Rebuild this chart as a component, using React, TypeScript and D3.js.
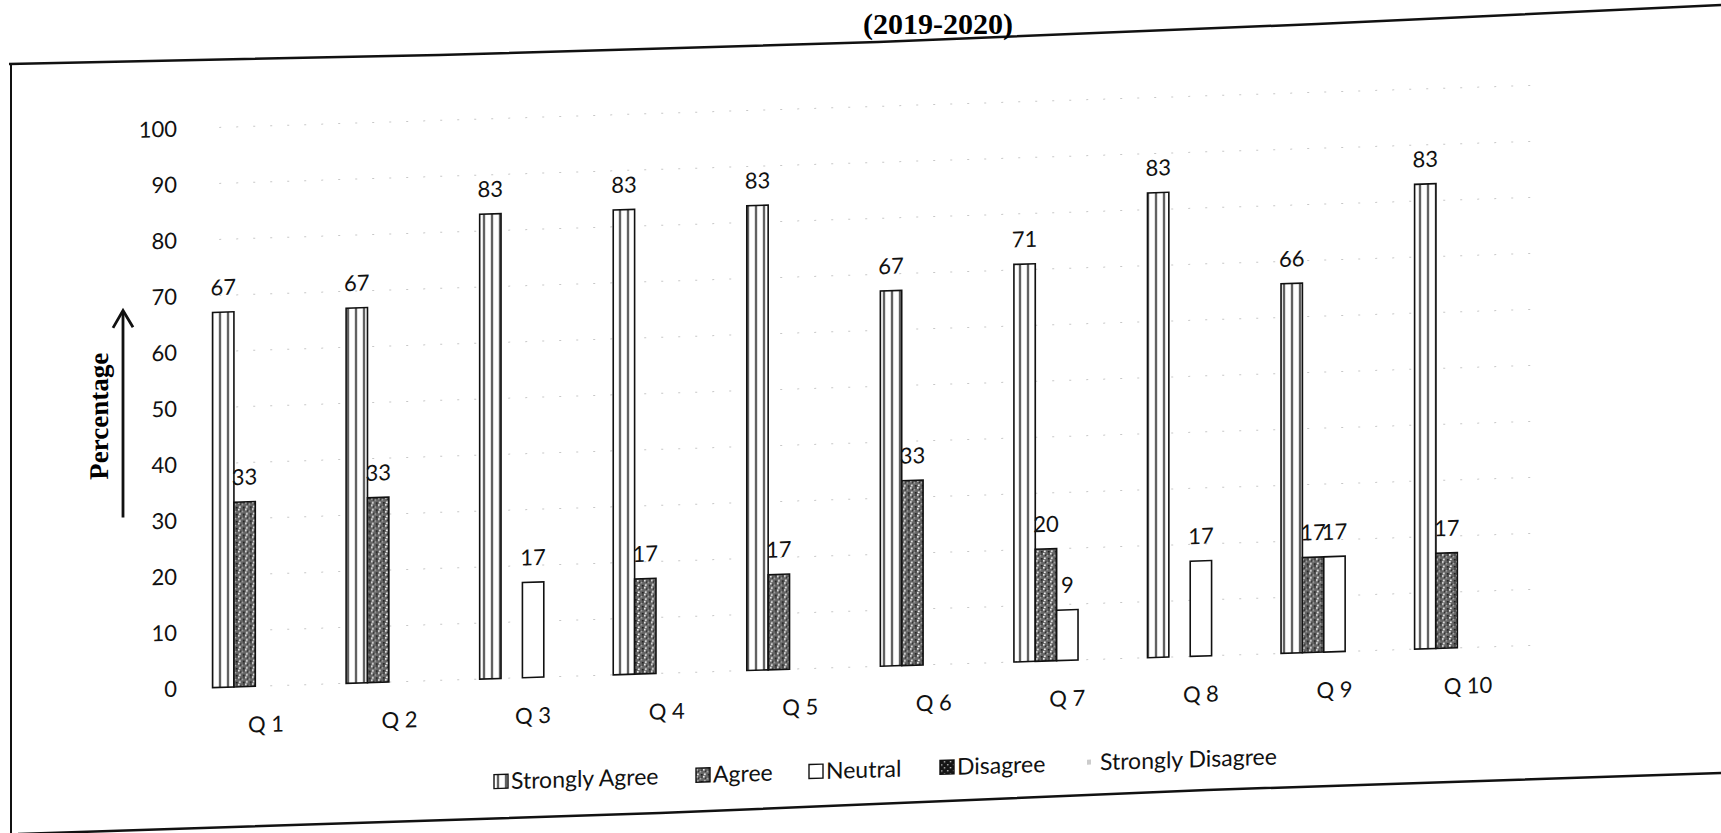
import React from "react";
import * as d3 from "d3";

// survey responses per question, in percent
const questions = ["Q 1", "Q 2", "Q 3", "Q 4", "Q 5", "Q 6", "Q 7", "Q 8", "Q 9", "Q 10"];
const seriesNames = ["Strongly Agree", "Agree", "Neutral", "Disagree", "Strongly Disagree"];
const stronglyAgree = [67, 67, 83, 83, 83, 67, 71, 83, 66, 83];
const agree = [33, 33, 0, 17, 17, 33, 20, 0, 17, 17];
const neutral = [0, 0, 17, 0, 0, 0, 9, 17, 17, 0];
const disagree = [0, 0, 0, 0, 0, 0, 0, 0, 0, 0];
const stronglyDisagree = [0, 0, 0, 0, 0, 0, 0, 0, 0, 0];
const yTicks = [0, 10, 20, 30, 40, 50, 60, 70, 80, 90, 100];

const W = 1721;
const H = 833;
const pivotX = 170;
const base = 689;
const skew = 0.032;
const sansFont = "Lato, 'Open Sans', sans-serif";
const serifFont = "'Liberation Serif', 'DejaVu Serif', serif";

const fills = ["url(#pSA)", "url(#pAgree)", "#fff", "url(#pDis)", "#fff"];

export default function App() {
  const seriesValues = [stronglyAgree, agree, neutral, disagree, stronglyDisagree];

  const x = d3.scaleBand<string>().domain(questions).range([199.2, 1534.8]);
  const xInner = d3
    .scaleBand<string>()
    .domain(seriesNames)
    .range([x.bandwidth() * 0.1, x.bandwidth() * 0.9]);
  const y = d3.scaleLinear().domain([0, 100]).range([base, base - 560]);

  const bars = questions
    .flatMap((q, i) => seriesNames.map((s, j) => ({ q, s, j, v: seriesValues[j][i] })))
    .filter((d) => d.v > 0);

  const skewT = `translate(${pivotX},${base}) matrix(1,${-skew},0,1,0,0) translate(${-pivotX},${-base})`;

  // legend layout
  const legendX = [494, 696, 809, 940, 1083];
  const legendY = 800;

  return (
    <svg
      width={W}
      height={H}
      style={{ position: "absolute", left: 0, top: 0, background: "#fff" }}
    >
      <defs>
        <pattern id="pSA" patternUnits="userSpaceOnUse" width={8} height={8}>
          <rect width={8} height={8} fill="#fff" />
          <line x1={4} y1={0} x2={4} y2={8} stroke="#111" strokeWidth={1.6} />
        </pattern>
        <pattern id="pAgree" patternUnits="userSpaceOnUse" width={7} height={7}>
          <rect width={7} height={7} fill="#666" />
          <rect x={0} y={0} width={1.6} height={1.6} fill="#eee" />
          <rect x={3.5} y={2} width={1.4} height={1.4} fill="#ccc" />
          <rect x={1} y={4.5} width={1.6} height={1.6} fill="#fff" />
          <rect x={5} y={5} width={1.6} height={1.6} fill="#111" />
          <rect x={2} y={1.5} width={1.6} height={1.6} fill="#222" />
          <rect x={5.3} y={0.5} width={1.2} height={1.2} fill="#222" />
        </pattern>
        <pattern id="pDis" patternUnits="userSpaceOnUse" width={6} height={6}>
          <rect width={6} height={6} fill="#151515" />
          <rect x={1} y={1} width={1.3} height={1.3} fill="#ddd" />
          <rect x={4} y={4} width={1.3} height={1.3} fill="#ddd" />
        </pattern>
      </defs>

      {/* photographed page frame */}
      <path
        d="M9,64 L439,55 L878,42 L1317,24 L1721,5"
        fill="none"
        stroke="#111"
        strokeWidth={2.5}
      />
      <path d="M11,64 L11,833" fill="none" stroke="#111" strokeWidth={2} />
      <path
        d="M18,834 L660,813 L1207,790 L1721,773"
        fill="none"
        stroke="#111"
        strokeWidth={2.5}
      />

      <text
        x={938}
        y={34}
        textAnchor="middle"
        fontFamily={serifFont}
        fontWeight="bold"
        fontSize={30}
      >
        (2019-2020)
      </text>

      <g transform={skewT}>
        {/* faint gridlines */}
        {yTicks.map((t) => (
          <line
            key={`g${t}`}
            x1={x(questions[0])! + 20}
            x2={x(questions[questions.length - 1])! + x.bandwidth()}
            y1={y(t)}
            y2={y(t)}
            stroke="#bbb"
            strokeWidth={1}
            strokeDasharray="2 15"
            opacity={0.8}
          />
        ))}

        {yTicks.map((t) => (
          <text
            key={`t${t}`}
            x={177}
            y={y(t)}
            dy="0.35em"
            textAnchor="end"
            fontFamily={sansFont}
            fontSize={22}
            fill="#111"
          >
            {t}
          </text>
        ))}

        {bars.map((d) => {
          const bx = x(d.q)! + xInner(d.s)!;
          return (
            <g key={`${d.q}-${d.s}`}>
              <rect
                x={bx}
                y={y(d.v)}
                width={xInner.bandwidth()}
                height={y(0) - y(d.v)}
                fill={fills[d.j]}
                stroke="#111"
                strokeWidth={1.6}
              />
              <text
                x={bx + xInner.bandwidth() / 2}
                y={y(d.v) - 17}
                textAnchor="middle"
                fontFamily={sansFont}
                fontSize={22}
                fill="#111"
              >
                {d.v}
              </text>
            </g>
          );
        })}

        {questions.map((q) => (
          <text
            key={q}
            x={x(q)! + x.bandwidth() / 2}
            y={base + 46}
            textAnchor="middle"
            fontFamily={sansFont}
            fontSize={22}
            fill="#111"
          >
            {q}
          </text>
        ))}

        {/* y axis title with arrow */}
        <text
          transform={`rotate(-90,108,414)`}
          x={108}
          y={414}
          textAnchor="middle"
          fontFamily={serifFont}
          fontWeight="bold"
          fontSize={27}
        >
          Percentage
        </text>
        <line x1={123} y1={516} x2={123} y2={310} stroke="#111" strokeWidth={2.8} />
        <path
          d="M113,326 L123,309 L133,326"
          fill="none"
          stroke="#111"
          strokeWidth={2.8}
        />

        {/* legend */}
        {seriesNames.map((s, j) => (
          <g key={`l${s}`} transform={`translate(${legendX[j]},${legendY})`}>
            {j < 4 ? (
              <rect
                x={0}
                y={-15}
                width={14}
                height={14}
                fill={fills[j]}
                stroke="#111"
                strokeWidth={1.4}
              />
            ) : (
              <rect x={4} y={-11} width={4} height={5} fill="#ccc" />
            )}
            <text x={17} y={0} fontFamily={sansFont} fontSize={23} fill="#111">
              {s}
            </text>
          </g>
        ))}
      </g>
    </svg>
  );
}
